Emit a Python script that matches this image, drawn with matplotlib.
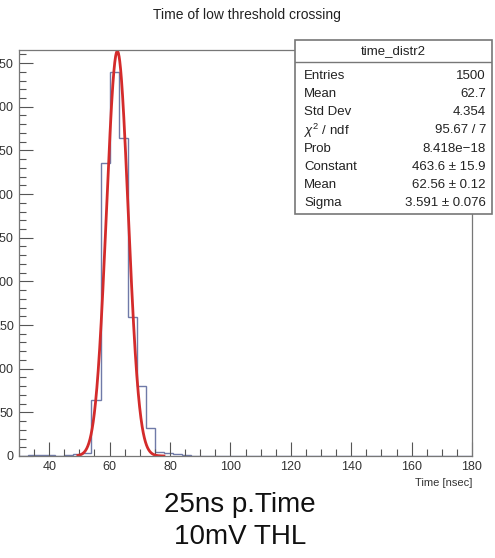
import numpy as np
import matplotlib.pyplot as plt
from matplotlib.ticker import MultipleLocator
from matplotlib.patches import Rectangle

# histogram time_distr2: 50 bins of 3 ns between 30 and 180
bin_edges = np.arange(30, 181, 3)
counts = [0, 1, 1, 1, 0, 1, 2, 4, 64, 336,
          440, 364, 159, 80, 32, 5, 3, 2, 1, 0,
          0, 0, 0, 0, 0, 0, 0, 0, 0, 0,
          0, 0, 0, 0, 0, 0, 0, 0, 0, 0,
          0, 0, 0, 0, 0, 0, 0, 0, 0, 0]

# gaussian fit parameters
fit_const = 463.6
fit_mean = 62.56
fit_sigma = 3.591
fit_range = (49.5, 78.0)

stat_names = ["Entries", "Mean", "Std Dev", r"$\chi^2$ / ndf", "Prob",
              "Constant", "Mean", "Sigma"]
stat_values = ["1500", "62.7", "4.354", "95.67 / 7", "8.418e\u221218",
               "463.6 \u00b1 15.9", "62.56 \u00b1 0.12", "3.591 \u00b1 0.076"]

plt.rcParams['font.family'] = ["Liberation Sans", "DejaVu Sans"]
plt.rcParams['mathtext.fontset'] = 'custom'
plt.rcParams['mathtext.rm'] = 'Liberation Sans'
plt.rcParams['mathtext.it'] = 'Liberation Sans:italic'

W, H = 495, 558
fig = plt.figure(figsize=(W / 100, H / 100), dpi=100)
ax = fig.add_axes([19 / W, 1 - 456 / H, (472 - 19) / W, (456 - 50) / H])

ax.stairs(counts, bin_edges, color='#6f7aa8', lw=1.0)
xf = np.linspace(fit_range[0], fit_range[1], 400)
yf = fit_const * np.exp(-0.5 * ((xf - fit_mean) / fit_sigma) ** 2)
ax.plot(xf, yf, color='#d42b2b', lw=2.0)

ax.set_xlim(30, 180)
ax.set_ylim(0, 465)
ax.xaxis.set_major_locator(MultipleLocator(20))
ax.xaxis.set_minor_locator(MultipleLocator(5))
ax.yaxis.set_major_locator(MultipleLocator(50))
ax.yaxis.set_minor_locator(MultipleLocator(10))
ax.tick_params(which='both', direction='in', color='#555555', labelsize=9,
               labelcolor='#333333', top=False, right=False)
ax.tick_params(which='major', length=10, width=0.8)
ax.tick_params(which='minor', length=5, width=0.8)
ax.tick_params(axis='y', pad=4)
for sp in ax.spines.values():
    sp.set_color('#777777')
    sp.set_linewidth(0.9)

fig.text(247 / W, 1 - 15 / H, "Time of low threshold crossing",
         ha='center', va='center', fontsize=10, color='#222222')
fig.text(472 / W, 1 - 483 / H, "Time [nsec]", ha='right', va='center',
         fontsize=8, color='#333333')

# stats box
bx0, bx1, by0, by1 = 295, 492, 40, 214
box = fig.add_axes([bx0 / W, 1 - by1 / H, (bx1 - bx0) / W, (by1 - by0) / H])
box.set_xlim(bx0, bx1)
box.set_ylim(by1, by0)
box.axis('off')
box.add_patch(Rectangle((bx0, by0), bx1 - bx0, by1 - by0, facecolor='white',
                        edgecolor='#777777', lw=1.2, clip_on=False))
box.plot([bx0, bx1], [62, 62], color='#777777', lw=1.0)
box.text((bx0 + bx1) / 2, 51, "time_distr2", ha='center', va='center',
         fontsize=9.5, color='#222222')
row_y = np.linspace(76, 203, len(stat_names))
for y, name, val in zip(row_y, stat_names, stat_values):
    box.text(bx0 + 9, y, name, ha='left', va='center', fontsize=9.5,
             color='#222222')
    box.text(bx1 - 6, y, val, ha='right', va='center', fontsize=9.5,
             color='#222222')

fig.text(240 / W, 1 - 505 / H, "25ns p.Time", ha='center', va='center',
         fontsize=20, color='#111111')
fig.text(240 / W, 1 - 537 / H, "10mV THL", ha='center', va='center',
         fontsize=20, color='#111111')

fig.savefig("out.png", dpi=100)
